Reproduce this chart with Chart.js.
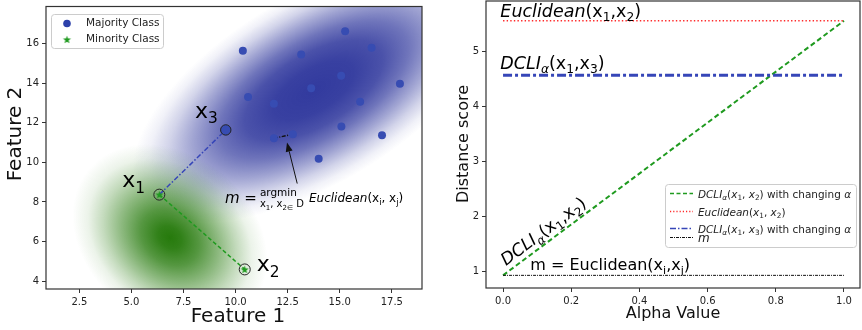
<!DOCTYPE html>
<html><head><meta charset="utf-8">
<script src="https://cdn.jsdelivr.net/npm/chart.js@4"></script>
<style>
html,body{margin:0;padding:0;background:#fff;}
#wrap{width:862px;height:330px;display:flex;}
canvas{display:block;}
</style></head><body>
<div id="wrap"><canvas id="c1" width="431" height="330"></canvas><canvas id="c2" width="431" height="330"></canvas></div>
<script>
// ---------------- data ----------------
const majorityX = [10.35, 15.26, 16.53, 13.15, 17.89, 15.07, 13.63, 10.60, 15.98, 11.84, 15.08, 17.03, 12.75, 11.84, 13.99, 9.53];
const majorityY = [15.64, 16.63, 15.80, 15.45, 13.97, 14.38, 13.75, 13.30, 13.07, 12.97, 11.82, 11.37, 11.42, 11.22, 10.18, 11.64];
const minorityX = [6.34, 10.44];
const minorityY = [8.37, 4.59];
const namedX = [6.34, 10.44, 9.53];   // x1, x2, x3
const namedY = [8.37, 4.59, 11.64];
const closestPairX = [11.84, 12.75];  // pair realising m
const closestPairY = [11.22, 11.42];
const featureXTicks = [2.5, 5, 7.5, 10, 12.5, 15, 17.5];
const featureXTickLabels = ['2.5', '5.0', '7.5', '10.0', '12.5', '15.0', '17.5'];
const featureYTicks = [4, 6, 8, 10, 12, 14, 16];
const featureYTickLabels = ['4', '6', '8', '10', '12', '14', '16'];

const alphaValues = [0, 1];
const dcliX1X2 = [0.93, 5.56];
const euclidX1X2 = [5.56, 5.56];
const dcliX1X3 = [4.57, 4.57];
const mDistance = [0.93, 0.93];
const alphaTicks = [0, 0.2, 0.4, 0.6, 0.8, 1.0];
const alphaTickLabels = ['0.0', '0.2', '0.4', '0.6', '0.8', '1.0'];
const distanceTicks = [1, 2, 3, 4, 5];
const distanceTickLabels = ['1', '2', '3', '4', '5'];

// ---------------- styling helpers ----------------
const FONT = '"DejaVu Sans", sans-serif';
Chart.defaults.font.family = FONT;
Chart.defaults.font.size = 10;
Chart.defaults.color = '#222';

const BLUE_PT = 'rgb(55,76,178)';
const BLUE_LINE = '#3646b8';
const GREEN = '#1f9a1f';
const RED = '#ff2a2a';

const densityBlobs = [
  {cx: 13.75, cy: 13.65, a: 9.8, b: 4.5, angle: -31, rgb: '50,58,158',
   profile: [[0,1],[0.22,0.97],[0.38,0.88],[0.52,0.7],[0.67,0.45],[0.8,0.22],[0.91,0.07],[1,0]]},
  {cx: 6.85, cy: 6.2, a: 5.1, b: 4.0, angle: 40, rgb: '38,122,12',
   profile: [[0,1],[0.12,0.95],[0.3,0.78],[0.5,0.52],[0.68,0.28],[0.84,0.09],[1,0]]}
];

function makeStar(color, R){
  const c = document.createElement('canvas');
  const s = Math.ceil(R*2+2);
  c.width = s; c.height = s;
  const g = c.getContext('2d');
  g.fillStyle = color;
  g.beginPath();
  for (let i = 0; i < 10; i++){
    const r = i % 2 === 0 ? R : R*0.42;
    const ang = -Math.PI/2 + i*Math.PI/5;
    const px = s/2 + r*Math.cos(ang), py = s/2 + r*Math.sin(ang) + 0.4;
    if (i === 0) g.moveTo(px, py); else g.lineTo(px, py);
  }
  g.closePath(); g.fill();
  return c;
}
const starImg = makeStar(GREEN, 4.2);

function segFont(s, size){
  const fs = s.sub ? size*0.7 : size;
  return (s.it ? 'italic ' : '') + fs.toFixed(2) + 'px ' + FONT;
}
function richWidth(ctx, segs, size){
  let w = 0;
  for (const s of segs){ ctx.font = segFont(s, size); w += ctx.measureText(s.t).width; }
  return w;
}
function drawRich(ctx, segs, x, y, size, color){
  ctx.save();
  ctx.fillStyle = color || '#000';
  ctx.textBaseline = 'alphabetic';
  ctx.textAlign = 'left';
  let cx = x;
  for (const s of segs){
    ctx.font = segFont(s, size);
    ctx.fillText(s.t, cx, y + (s.sub ? size*0.24 : 0));
    cx += ctx.measureText(s.t).width;
  }
  ctx.restore();
  return cx - x;
}
function lineSample(ctx, x1, x2, y, color, width, dash){
  ctx.save();
  ctx.strokeStyle = color; ctx.lineWidth = width; ctx.setLineDash(dash);
  ctx.beginPath(); ctx.moveTo(x1, y); ctx.lineTo(x2, y); ctx.stroke();
  ctx.restore();
}
function roundBox(ctx, x, y, w, h, r){
  ctx.save();
  ctx.beginPath();
  ctx.moveTo(x+r, y); ctx.lineTo(x+w-r, y); ctx.quadraticCurveTo(x+w, y, x+w, y+r);
  ctx.lineTo(x+w, y+h-r); ctx.quadraticCurveTo(x+w, y+h, x+w-r, y+h);
  ctx.lineTo(x+r, y+h); ctx.quadraticCurveTo(x, y+h, x, y+h-r);
  ctx.lineTo(x, y+r); ctx.quadraticCurveTo(x, y, x+r, y);
  ctx.closePath();
  ctx.fillStyle = 'rgba(255,255,255,0.85)'; ctx.fill();
  ctx.strokeStyle = '#cccccc'; ctx.lineWidth = 1; ctx.stroke();
  ctx.restore();
}
function frame(chart){
  const a = chart.chartArea, ctx = chart.ctx;
  ctx.save();
  ctx.strokeStyle = '#333'; ctx.lineWidth = 1.2;
  ctx.strokeRect(a.left, a.top, a.right - a.left, a.bottom - a.top);
  ctx.restore();
}
function axisTitle(ctx, text, x, y, size, rot){
  ctx.save();
  ctx.translate(x, y); if (rot) ctx.rotate(rot);
  ctx.font = size + 'px ' + FONT; ctx.fillStyle = '#111';
  ctx.textAlign = 'center'; ctx.textBaseline = 'middle';
  ctx.fillText(text, 0, 0);
  ctx.restore();
}
function fixedAxis(size, horizontal){
  return function(scale){
    if (horizontal) scale.height = size; else scale.width = size;
    scale.paddingLeft = 0; scale.paddingRight = 0; scale.paddingTop = 0; scale.paddingBottom = 0;
  };
}
function tickSetter(values){ return function(scale){ scale.ticks = values.map(v => ({value: v})); }; }
const tickGrid = {display: true, drawOnChartArea: false, drawTicks: true, tickLength: 4, tickColor: '#333', tickWidth: 1};

// ---------------- left chart ----------------
const pts = (xs, ys) => xs.map((x, i) => ({x: x, y: ys[i]}));

const leftPlugin = {
  id: 'leftDeco',
  beforeDatasetsDraw(chart){
    const ctx = chart.ctx, a = chart.chartArea;
    const xs = chart.scales.x, ys = chart.scales.y;
    const ppu = Math.abs(xs.getPixelForValue(1) - xs.getPixelForValue(0));
    ctx.save();
    ctx.beginPath(); ctx.rect(a.left, a.top, a.right - a.left, a.bottom - a.top); ctx.clip();
    for (const b of densityBlobs){
      ctx.save();
      ctx.translate(xs.getPixelForValue(b.cx), ys.getPixelForValue(b.cy));
      ctx.rotate(b.angle*Math.PI/180);
      ctx.scale(b.a*ppu, b.b*ppu);
      const g = ctx.createRadialGradient(0, 0, 0, 0, 0, 1);
      for (const [t, al] of b.profile) g.addColorStop(t, 'rgba(' + b.rgb + ',' + al + ')');
      ctx.fillStyle = g;
      ctx.beginPath(); ctx.arc(0, 0, 1, 0, Math.PI*2); ctx.fill();
      ctx.restore();
    }
    ctx.restore();
  },
  afterDraw(chart){
    const ctx = chart.ctx;
    const xs = chart.scales.x, ys = chart.scales.y;
    const P = (x, y) => [xs.getPixelForValue(x), ys.getPixelForValue(y)];
    frame(chart);
    // point labels
    let p = P(8.05, 12.24); drawRich(ctx, [{t:'x'},{t:'3',sub:1}], p[0], p[1], 22);
    p = P(4.56, 8.74); drawRich(ctx, [{t:'x'},{t:'1',sub:1}], p[0], p[1], 22);
    p = P(11.02, 4.49); drawRich(ctx, [{t:'x'},{t:'2',sub:1}], p[0], p[1], 22);
    // m annotation
    p = P(9.49, 7.94);
    const mx = p[0], my = p[1];
    const w1 = drawRich(ctx, [{t:'m',it:1},{t:' ='}], mx, my, 15);
    const ax = mx + w1 + 3;
    drawRich(ctx, [{t:'argmin'}], ax, my - 7, 10.5);
    const w2 = drawRich(ctx, [{t:'x'},{t:'1',sub:1},{t:', x'},{t:'2',sub:1},{t:'\u2208',sub:1},{t:' D'}], ax, my + 4, 10);
    drawRich(ctx, [{t:'Euclidean',it:1},{t:'(x'},{t:'i',sub:1},{t:', x'},{t:'j',sub:1},{t:')'}], ax + w2 + 5, my - 1, 12);
    // arrow
    const t0 = P(12.96, 8.93), t1 = P(12.47, 11.0);
    const ang = Math.atan2(t1[1]-t0[1], t1[0]-t0[0]);
    const hl = 9, hw = 3.5;
    const bx = t1[0] - hl*Math.cos(ang), by = t1[1] - hl*Math.sin(ang);
    ctx.save();
    ctx.strokeStyle = '#111'; ctx.fillStyle = '#111'; ctx.lineWidth = 1;
    ctx.beginPath(); ctx.moveTo(t0[0], t0[1]); ctx.lineTo(bx, by); ctx.stroke();
    ctx.beginPath(); ctx.moveTo(t1[0], t1[1]);
    ctx.lineTo(bx + hw*Math.sin(ang), by - hw*Math.cos(ang));
    ctx.lineTo(bx - hw*Math.sin(ang), by + hw*Math.cos(ang));
    ctx.closePath(); ctx.fill();
    ctx.restore();
    // legend
    roundBox(ctx, 51.5, 14.5, 112, 34, 3);
    ctx.save();
    ctx.fillStyle = 'rgb(45,65,170)';
    ctx.beginPath(); ctx.arc(67, 23.5, 3.8, 0, Math.PI*2); ctx.fill();
    ctx.drawImage(starImg, 67 - starImg.width/2, 39.5 - starImg.height/2);
    ctx.font = '10.5px ' + FONT; ctx.fillStyle = '#222'; ctx.textBaseline = 'middle';
    ctx.fillText('Majority Class', 86, 23.5);
    ctx.fillText('Minority Class', 86, 39.5);
    ctx.restore();
    // axis titles
    axisTitle(ctx, 'Feature 1', 238, 317, 20, 0);
    axisTitle(ctx, 'Feature 2', 16, 134, 20, -Math.PI/2);
  }
};

new Chart(document.getElementById('c1'), {
  type: 'scatter',
  data: {
    datasets: [
      {data: pts(minorityX, minorityY), pointStyle: starImg, pointRadius: 4, showLine: false},
      {data: pts(namedX.slice(0, 2), namedY.slice(0, 2)), pointStyle: 'circle', pointRadius: 5.5,
       backgroundColor: 'rgba(0,0,0,0)', borderColor: '#222', borderWidth: 1, showLine: false},
      {data: pts(namedX.slice(2), namedY.slice(2)), pointStyle: 'circle', pointRadius: 5.2,
       backgroundColor: BLUE_PT, borderColor: '#222', borderWidth: 1, showLine: false},
      {data: pts(majorityX, majorityY), pointStyle: 'circle', pointRadius: 4,
       backgroundColor: BLUE_PT, borderWidth: 0, showLine: false},
      {data: [{x: namedX[0], y: namedY[0]}, {x: namedX[2], y: namedY[2]}], showLine: true, pointRadius: 0,
       borderColor: BLUE_LINE, borderWidth: 1.5, borderDash: [5, 2, 1.5, 2], fill: false},
      {data: [{x: namedX[0], y: namedY[0]}, {x: namedX[1], y: namedY[1]}], showLine: true, pointRadius: 0,
       borderColor: GREEN, borderWidth: 1.5, borderDash: [4, 2.5], fill: false},
      {data: pts(closestPairX, closestPairY), showLine: true, pointRadius: 0,
       borderColor: '#111', borderWidth: 1.5, borderDash: [4, 1.5, 1, 1.5], fill: false}
    ]
  },
  options: {
    responsive: false, animation: false, devicePixelRatio: 1, events: [],
    layout: {padding: {left: 0, right: 9, top: 4, bottom: 0}},
    plugins: {legend: {display: false}, tooltip: {enabled: false}},
    scales: {
      x: {type: 'linear', min: 0.9, max: 18.95, grid: tickGrid, border: {display: false},
          afterBuildTicks: tickSetter(featureXTicks), afterFit: fixedAxis(41, true),
          ticks: {maxRotation: 0, padding: 3, color: '#222', callback: (v, i) => featureXTickLabels[i]}},
      y: {type: 'linear', min: 3.6, max: 17.88, grid: tickGrid, border: {display: false},
          afterBuildTicks: tickSetter(featureYTicks), afterFit: fixedAxis(46, false),
          ticks: {padding: 3, color: '#222', callback: (v, i) => featureYTickLabels[i]}}
    }
  },
  plugins: [leftPlugin]
});

// ---------------- right chart ----------------
const rightPlugin = {
  id: 'rightDeco',
  afterDraw(chart){
    const ctx = chart.ctx;
    const xs = chart.scales.x, ys = chart.scales.y;
    const P = (x, y) => [xs.getPixelForValue(x), ys.getPixelForValue(y)];
    frame(chart);
    let p = P(-0.008, 5.63);
    drawRich(ctx, [{t:'Euclidean',it:1},{t:'(x'},{t:'1',sub:1},{t:',x'},{t:'2',sub:1},{t:')'}], p[0], p[1], 17.5);
    p = P(-0.008, 4.69);
    drawRich(ctx, [{t:'DCLI',it:1},{t:'\u03b1',it:1,sub:1},{t:'(x'},{t:'1',sub:1},{t:',x'},{t:'3',sub:1},{t:')'}], p[0], p[1], 17.5);
    p = P(0.009, 1.1);
    const q = P(1, dcliX1X2[1]), o = P(0, dcliX1X2[0]);
    const rot = Math.atan2(q[1]-o[1], q[0]-o[0]);
    ctx.save(); ctx.translate(p[0], p[1]); ctx.rotate(rot);
    drawRich(ctx, [{t:'DCLI',it:1},{t:'\u03b1',it:1,sub:1},{t:'(x'},{t:'1',sub:1},{t:',x'},{t:'2',sub:1},{t:')'}], 0, 0, 17);
    ctx.restore();
    p = P(0.08, 1.03);
    drawRich(ctx, [{t:'m = Euclidean(x'},{t:'i',sub:1},{t:',x'},{t:'j',sub:1},{t:')'}], p[0], p[1], 16);
    // legend
    const rows = [
      [{t:'DCLI',it:1},{t:'\u03b1',it:1,sub:1},{t:'('},{t:'x',it:1},{t:'1',sub:1},{t:', '},{t:'x',it:1},{t:'2',sub:1},{t:') with changing '},{t:'\u03b1',it:1}],
      [{t:'Euclidean',it:1},{t:'('},{t:'x',it:1},{t:'1',sub:1},{t:', '},{t:'x',it:1},{t:'2',sub:1},{t:')'}],
      [{t:'DCLI',it:1},{t:'\u03b1',it:1,sub:1},{t:'('},{t:'x',it:1},{t:'1',sub:1},{t:', '},{t:'x',it:1},{t:'3',sub:1},{t:') with changing '},{t:'\u03b1',it:1}],
      [{t:'m',it:1}]
    ];
    const fs = Math.min(11, 11*153/richWidth(ctx, rows[0], 11));
    const L = 234;
    roundBox(ctx, L + 0.5, 184.5, 191, 63, 3);
    const sx1 = L + 5, sx2 = L + 28, tx = L + 33;
    lineSample(ctx, sx1, sx2, 193.5, GREEN, 1.6, [4, 2.5]);
    drawRich(ctx, rows[0], tx, 197.5, fs, '#222');
    lineSample(ctx, sx1, sx2, 211.5, RED, 1.5, [1.2, 2]);
    drawRich(ctx, rows[1], tx, 215.5, fs, '#222');
    lineSample(ctx, sx1, sx2, 228.5, BLUE_LINE, 1.6, [6, 2, 1.5, 2]);
    drawRich(ctx, rows[2], tx, 232.5, fs, '#222');
    lineSample(ctx, sx1, sx2, 237.5, '#111', 1, [3, 1, 1, 1]);
    drawRich(ctx, rows[3], tx, 241.5, fs + 1.5, '#222');
    // axis titles
    axisTitle(ctx, 'Alpha Value', 242, 314, 16, 0);
    axisTitle(ctx, 'Distance score', 33, 144, 16, -Math.PI/2);
  }
};

new Chart(document.getElementById('c2'), {
  type: 'scatter',
  data: {
    datasets: [
      {data: pts(alphaValues, dcliX1X2), showLine: true, pointRadius: 0, borderColor: GREEN, borderWidth: 2,
       borderDash: [5, 3], order: 4},
      {data: pts(alphaValues, euclidX1X2), showLine: true, pointRadius: 0, borderColor: RED, borderWidth: 1.6,
       borderDash: [1.4, 2.2], order: 3},
      {data: pts(alphaValues, dcliX1X3), showLine: true, pointRadius: 0, borderColor: BLUE_LINE, borderWidth: 3,
       borderDash: [9, 3, 3, 3], order: 2},
      {data: pts(alphaValues, mDistance), showLine: true, pointRadius: 0, borderColor: '#111', borderWidth: 1,
       borderDash: [3, 1, 1, 1], order: 1}
    ]
  },
  options: {
    responsive: false, animation: false, devicePixelRatio: 1, events: [],
    layout: {padding: {left: 0, right: 2, top: 1, bottom: 0}},
    plugins: {legend: {display: false}, tooltip: {enabled: false}},
    scales: {
      x: {type: 'linear', min: -0.05, max: 1.047, grid: tickGrid, border: {display: false},
          afterBuildTicks: tickSetter(alphaTicks), afterFit: fixedAxis(42, true),
          ticks: {maxRotation: 0, padding: 3, color: '#222', callback: (v, i) => alphaTickLabels[i]}},
      y: {type: 'linear', min: 0.70, max: 5.92, grid: tickGrid, border: {display: false},
          afterBuildTicks: tickSetter(distanceTicks), afterFit: fixedAxis(55, false),
          ticks: {padding: 3, color: '#222', callback: (v, i) => distanceTickLabels[i]}}
    }
  },
  plugins: [rightPlugin]
});
</script>
</body></html>
